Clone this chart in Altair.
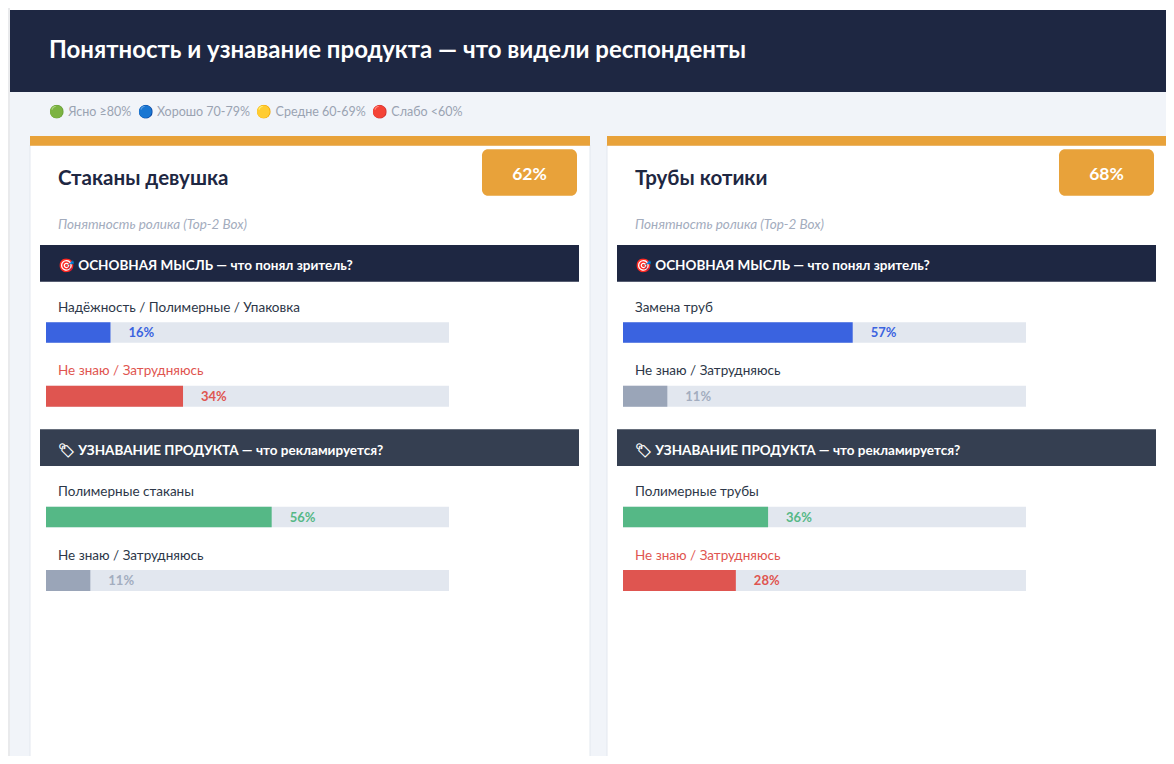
import altair as alt
import pandas as pd

FONT = "Lato"
W, H = 1158, 748

# ---------------- data ----------------
page_title = "Понятность и узнавание продукта — что видели респонденты"
legend_items = ["🟢 Ясно ≥80%", "🔵 Хорошо 70-79%", "🟡 Средне 60-69%", "🔴 Слабо <60%"]
subtitle = "Понятность ролика (Top-2 Box)"
section_titles = ["🎯 ОСНОВНАЯ МЫСЛЬ — что понял зритель?",
                  "🏷 УЗНАВАНИЕ ПРОДУКТА — что рекламируется?"]

card_names = ["Стаканы девушка", "Трубы котики"]
card_scores = [62, 68]

item_card = [0, 0, 0, 0, 1, 1, 1, 1]
item_row = [0, 1, 2, 3, 0, 1, 2, 3]
item_labels = ["Надёжность / Полимерные / Упаковка", "Не знаю / Затрудняюсь",
               "Полимерные стаканы", "Не знаю / Затрудняюсь",
               "Замена труб", "Не знаю / Затрудняюсь",
               "Полимерные трубы", "Не знаю / Затрудняюсь"]
item_values = [16, 34, 56, 11, 57, 11, 36, 28]
item_kinds = ["main", "unsure", "product", "low", "main", "low", "product", "unsure"]

KINDS = ["main", "product", "unsure", "low"]
BAR_COLORS = ["#3a63e0", "#55b886", "#df5550", "#9aa5b8"]
VAL_COLORS = ["#3a63e0", "#55b886", "#df5550", "#a3adbf"]
LBL_COLORS = ["#2d3748", "#2d3748", "#df5550", "#2d3748"]

NAVY = "#1e2742"
SLATE = "#353f51"
ORANGE = "#e8a23a"
TRACK = "#e2e7ef"
BG = "#f1f4f9"

cards_df = pd.DataFrame({"idx": [0, 1], "name": card_names, "score": card_scores})
items_df = pd.DataFrame({"card": item_card, "row": item_row, "label": item_labels,
                         "value": item_values, "kind": item_kinds})
one = pd.DataFrame({"k": [0]})


def rect(x, x2, y, y2, color, **kw):
    return alt.Chart(one).mark_rect(color=color, **kw).encode(
        x=alt.value(x), x2=alt.value(x2), y=alt.value(y), y2=alt.value(y2))


def text(t, x, y, size, color, weight="normal", style="normal", align="left"):
    return alt.Chart(one).mark_text(
        text=t, align=align, baseline="middle", font=FONT, fontSize=size,
        fontWeight=weight, fontStyle=style, color=color).encode(
        x=alt.value(x), y=alt.value(y))


layers = []
# page background + header
layers.append(rect(0, 2, 0, H + 10, "#e9eaec"))
layers.append(rect(2, W + 20, 2, H + 10, BG))
layers.append(rect(2, W + 20, 2, 84, NAVY))
layers.append(text(page_title, 41, 43, 24, "white", weight="bold"))
layers.append(text("\u00a0\u00a0".join(legend_items), 41, 104, 12.5, "#9aa3b2"))

ROW_TRACK = [(314.3, 334.7), (377.7, 398.7), (498.7, 519.3), (562, 583)]
ROW_LABEL = [300, 363, 484, 548]

for c in range(2):
    dx = 0 if c == 0 else 577
    # card
    layers.append(rect(22 + dx, 582 + dx, 137, H + 10, "white", stroke="#e3e8ef", strokeWidth=1))
    layers.append(rect(22 + dx, 582 + dx, 128, 137.7, ORANGE))
    # title
    layers.append(alt.Chart(cards_df).transform_filter(alt.datum.idx == c).mark_text(
        align="left", baseline="middle", font=FONT, fontSize=20.5, fontWeight="bold",
        color=NAVY).encode(x=alt.value(50 + dx), y=alt.value(171), text="name:N"))
    # badge
    layers.append(rect(474 + dx, 569 + dx, 141.3, 187.7, ORANGE, cornerRadius=6))
    layers.append(alt.Chart(cards_df).transform_filter(alt.datum.idx == c)
                  .transform_calculate(lbl="datum.score + '%'").mark_text(
        align="center", baseline="middle", font=FONT, fontSize=17.5, fontWeight="bold",
        color="white").encode(x=alt.value(521.5 + dx), y=alt.value(166.5), text="lbl:N"))
    layers.append(text(subtitle, 50 + dx, 217, 13.5, "#a3acbd", style="italic"))
    # section headers
    layers.append(rect(32 + dx, 571 + dx, 237, 273.7, NAVY))
    layers.append(text(section_titles[0], 50 + dx, 258, 13.5, "white", weight="bold"))
    layers.append(rect(32 + dx, 571 + dx, 421.3, 458, SLATE))
    layers.append(text(section_titles[1], 50 + dx, 443, 13.5, "white", weight="bold"))

    xscale = alt.Scale(domain=[0, 100], range=[38 + dx, 441 + dx])
    for r in range(4):
        base = alt.Chart(items_df).transform_filter(
            (alt.datum.card == c) & (alt.datum.row == r))
        y0, y1 = ROW_TRACK[r]
        yc = (y0 + y1) / 2
        layers.append(base.transform_calculate(full="100").mark_rect(color=TRACK).encode(
            x=alt.X("full:Q", scale=xscale, axis=None), x2=alt.datum(0),
            y=alt.value(y0), y2=alt.value(y1)))
        layers.append(base.mark_rect().encode(
            x=alt.X("value:Q", scale=xscale, axis=None), x2=alt.datum(0),
            y=alt.value(y0), y2=alt.value(y1),
            color=alt.Color("kind:N", scale=alt.Scale(domain=KINDS, range=BAR_COLORS), legend=None)))
        layers.append(base.transform_calculate(vl="datum.value + '%'").mark_text(
            align="left", baseline="middle", dx=18, font=FONT, fontSize=13, fontWeight="bold").encode(
            x=alt.X("value:Q", scale=xscale, axis=None), y=alt.value(yc + 0.5), text="vl:N",
            color=alt.Color("kind:N", scale=alt.Scale(domain=KINDS, range=VAL_COLORS), legend=None)))
        layers.append(base.mark_text(
            align="left", baseline="middle", font=FONT, fontSize=13.5).encode(
            x=alt.value(50 + dx), y=alt.value(ROW_LABEL[r]), text="label:N",
            color=alt.Color("kind:N", scale=alt.Scale(domain=KINDS, range=LBL_COLORS), legend=None)))

chart = alt.layer(*layers).resolve_scale(x="independent", color="independent").properties(
    width=W, height=H, autosize=alt.AutoSizeParams(type="none"), padding=0,
    background="white"
).configure_view(stroke=None)

chart.save("out.html", embed_options={"renderer": "svg", "actions": False})
